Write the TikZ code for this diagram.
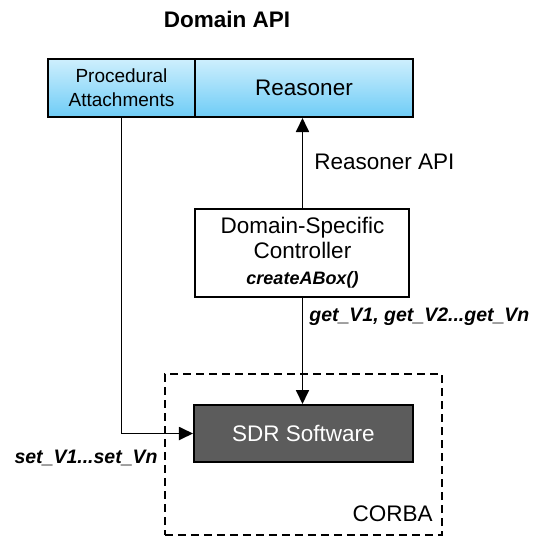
\documentclass[tikz,border=0pt]{standalone}
\usepackage{fontspec}
\setmainfont{Liberation Sans}
\usetikzlibrary{arrows.meta}
\begin{document}
\begin{tikzpicture}[x=0.5pt, y=-0.5pt,
    every node/.style={font=\fontsize{11.25}{12.75}\selectfont, inner sep=0pt},
    blue box/.style={draw, line width=1pt, top color={rgb,255:red,206;green,239;blue,253}, bottom color={rgb,255:red,110;green,204;blue,246}, minimum height=29pt, align=center},
    arr/.style={line width=0.9pt, -{Triangle[length=7pt, width=6.5pt]}},
    lbl/.style={font=\fontsize{9.75}{11}\selectfont\bfseries\itshape}]
        \useasboundingbox (0,0) rectangle (538,538);
        \node[font=\fontsize{11.25}{12.75}\selectfont\bfseries] (title) at (227, 19) {Domain API};
        \node[blue box, minimum width=73.5pt, font=\fontsize{9.5}{12}\selectfont] (proc) at (121.5, 88) {Procedural\\Attachments};
        \node[blue box, minimum width=109pt] (reasoner) at (304, 88) {Reasoner};
        \node[draw, line width=1pt, minimum width=107pt, minimum height=44pt, align=center] (ctrl) at (302.5, 252.5)
            {Domain-Specific\\Controller\\{\fontsize{9}{10}\selectfont\bfseries\itshape createABox()}};
        \node[draw, dashed, dash pattern=on 4pt off 2.5pt, line width=0.9pt, minimum width=138.5pt, minimum height=80.5pt] (corba) at (303.5, 454.5) {};
        \node[anchor=south east] (corbalbl) at (433, 522) {CORBA};
        \node[draw, line width=1pt, fill={rgb,255:red,92;green,92;blue,92}, text=white, minimum width=109.5pt, minimum height=28.5pt] (sdr) at (303.5, 433.5) {SDR Software};
        \draw[arr] (ctrl.north) -- (ctrl.north |- reasoner.south);
        \node[anchor=west] (rapi) at (314, 162) {Reasoner API};
        \draw[arr] (ctrl.south) -- (ctrl.south |- sdr.north);
        \node[lbl, anchor=west] (get) at (309, 317) {get\_V1, get\_V2...get\_Vn};
        \draw[arr] (proc.south) |- (sdr.west);
        \node[lbl, anchor=east] (set) at (158, 458) {set\_V1...set\_Vn};
    \end{tikzpicture}
\end{document}
